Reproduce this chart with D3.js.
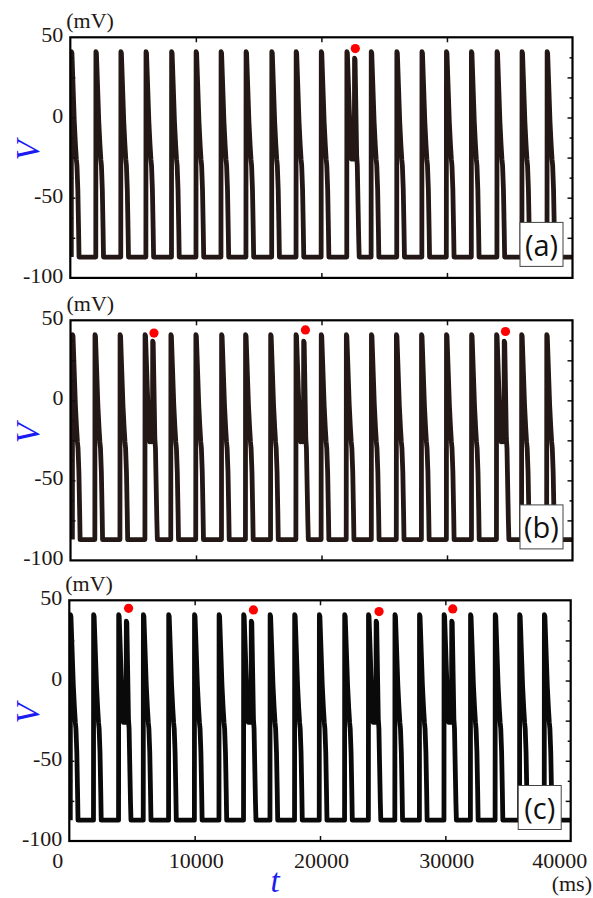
<!DOCTYPE html>
<html>
<head>
<meta charset="utf-8">
<script src="https://cdn.jsdelivr.net/npm/d3@7"></script>
<style>
  html, body { margin: 0; padding: 0; background: #fff; }
  svg { display: block; }
  .serif { font-family: "Liberation Serif", "Times New Roman", Times, "DejaVu Serif", serif; }
  .tag { font-family: "Open Sans", "Noto Sans", sans-serif; }
</style>
</head>
<body>
<svg id="chart" width="593" height="898"></svg>
<script>
// Membrane potential V(t) over 40 s, three conditions (a)-(c).

const panelLabels = ["(a)", "(b)", "(c)"];

// Spike onset times (ms)
const onsetsA = [80, 2030, 4020, 6020, 8060, 10010, 12000, 13990, 16040, 17980,
                 19980, 22020, 23960, 26000, 28000, 29950, 31940, 33980, 35970, 37970];
const onsetsB = [150, 1940, 3940, 5930, 7990, 9980, 12030, 13940, 15940, 17960,
                 19970, 21970, 23970, 25960, 27960, 29950, 31950, 33940, 35940, 37940];
const onsetsC = [80, 1930, 3930, 5900, 7920, 9980, 11940, 13900, 16010, 17970,
                 19940, 21960, 23860, 25970, 27930, 29890, 32000, 33970, 35920, 37890];

// Onsets that fire a doublet (second spike from the plateau)
const doubletsA = [22020];
const doubletsB = [5930, 17960, 33940];
const doubletsC = [3930, 13900, 23860, 29890];

// Marked second peaks [t (ms), V (mV)]
const markersA = [[22700, 43]];
const markersB = [[6650, 42], [18720, 44], [34660, 43]];
const markersC = [[4730, 45], [14690, 44], [24710, 43], [30590, 44.6]];

// Single action potential: [ms after onset, V (mV)]
const singleWave = [[0, -87], [10, 41], [50, 40], [240, -3], [330, -17], [400, -26],
                    [450, -30], [520, -45], [580, -70], [615, -87]];
// Doublet: plateau oscillation, then a second spike
const doubletWave = [[0, -87], [10, 41], [50, 40], [200, 5], [330, -20], [380, -26],
                     [420, -12], [460, -25], [500, -9], [540, -26], [580, -14], [605, -24],
                     [620, 37], [660, 36], [790, -24], [840, -30], [900, -55], [950, -75],
                     [990, -87]];

const restV = -87;
const timeTicks = [0, 10000, 20000, 30000, 40000];
const timeInnerTicks = [10000, 20000, 30000];
const voltLabels = [50, 0, -50, -100];
const voltMajorTicks = [25, 0, -25, -50, -75];
const voltMinorTicks = [37.5, 12.5, -12.5, -37.5, -62.5];

const onsets = [onsetsA, onsetsB, onsetsC];
const doublets = [doubletsA, doubletsB, doubletsC];
const markers = [markersA, markersB, markersC];

const svg = d3.select("#chart");
const textColor = "#231815";
const blue = "#1c1cf2";

const frames = [
  { left: 70.3, right: 572.5, top: 37.3, bottom: 277.9, trace: "#231815" },
  { left: 70.5, right: 572.5, top: 320.3, bottom: 560.4, trace: "#231815" },
  { left: 69.3, right: 570.7, top: 600.3, bottom: 841.0, trace: "#0a0a0a" }
];

function buildTrace(ons, dbl) {
  const pts = [];
  ons.forEach(o => {
    const wave = dbl.includes(o) ? doubletWave : singleWave;
    wave.forEach(([dt, v]) => pts.push([o + dt, v]));
  });
  pts.push([40000, restV]);
  return pts;
}

frames.forEach((f, i) => {
  const x = d3.scaleLinear().domain([0, 40000]).range([f.left, f.right]);
  const y = d3.scaleLinear().domain([-100, 50]).range([f.bottom, f.top]);
  const g = svg.append("g");

  const clipId = "clip" + i;
  svg.append("clipPath").attr("id", clipId)
    .append("rect")
    .attr("x", f.left).attr("y", f.top)
    .attr("width", f.right - f.left).attr("height", f.bottom - f.top);

  // trace
  const line = d3.line().x(d => x(d[0])).y(d => y(d[1]));
  g.append("path")
    .datum(buildTrace(onsets[i], doublets[i]))
    .attr("clip-path", `url(#${clipId})`)
    .attr("d", line)
    .attr("fill", "none")
    .attr("stroke", f.trace)
    .attr("stroke-width", 4.8)
    .attr("stroke-linejoin", "round");

  // markers
  g.selectAll("circle.mk").data(markers[i]).join("circle")
    .attr("class", "mk")
    .attr("cx", d => x(d[0])).attr("cy", d => y(d[1]))
    .attr("r", 4.6).attr("fill", "#ff0000");

  // inward ticks
  const tickStyle = sel => {
    sel.select(".domain").remove();
    sel.selectAll(".tick line").attr("stroke", "#111").attr("stroke-width", 1.5);
    sel.selectAll(".tick text").remove();
  };
  g.append("g").attr("transform", `translate(0,${f.bottom})`)
    .call(d3.axisBottom(x).tickValues(timeInnerTicks).tickSize(-5)).call(tickStyle);
  g.append("g").attr("transform", `translate(0,${f.top})`)
    .call(d3.axisTop(x).tickValues(timeInnerTicks).tickSize(-5)).call(tickStyle);
  g.append("g").attr("transform", `translate(${f.left},0)`)
    .call(d3.axisLeft(y).tickValues(voltMajorTicks).tickSize(-5)).call(tickStyle);
  g.append("g").attr("transform", `translate(${f.left},0)`)
    .call(d3.axisLeft(y).tickValues(voltMinorTicks).tickSize(-3)).call(tickStyle);
  g.append("g").attr("transform", `translate(${f.right},0)`)
    .call(d3.axisRight(y).tickValues(voltMajorTicks).tickSize(-5)).call(tickStyle);
  g.append("g").attr("transform", `translate(${f.right},0)`)
    .call(d3.axisRight(y).tickValues(voltMinorTicks).tickSize(-3)).call(tickStyle);

  // frame
  g.append("rect")
    .attr("x", f.left).attr("y", f.top)
    .attr("width", f.right - f.left).attr("height", f.bottom - f.top)
    .attr("fill", "none").attr("stroke", "#000").attr("stroke-width", 2.2);

  // voltage labels
  g.selectAll("text.vl").data(voltLabels).join("text")
    .attr("class", "vl serif")
    .attr("x", f.left - 7)
    .attr("y", d => y(d) + 5)
    .attr("text-anchor", "end")
    .style("font-size", "22px")
    .attr("fill", textColor)
    .text(d => d);

  // unit
  g.append("text")
    .attr("class", "serif")
    .attr("x", f.left - 4).attr("y", f.top - 9.5)
    .style("font-size", "22px")
    .attr("fill", textColor)
    .text("(mV)");

  // axis title V
  g.append("text")
    .attr("class", "serif")
    .attr("transform", `translate(28,${f.top + 0.47 * (f.bottom - f.top)}) rotate(-90)`)
    .attr("text-anchor", "middle")
    .attr("dominant-baseline", "central")
    .style("font-size", "33px").style("font-style", "italic")
    .attr("fill", blue)
    .text("V");

  // panel tag
  const bx = f.right - 52.5, by = f.bottom - 55.5;
  g.append("rect")
    .attr("x", bx).attr("y", by).attr("width", 43).attr("height", 44)
    .attr("fill", "#fff").attr("stroke", "#444").attr("stroke-width", 1);
  g.append("text")
    .attr("class", "tag")
    .attr("x", bx + 21.5).attr("y", by + 22)
    .attr("text-anchor", "middle").attr("dominant-baseline", "central")
    .style("font-size", "29px")
    .attr("fill", "#111")
    .text(panelLabels[i]);

  // time axis labels on the bottom panel
  if (i === frames.length - 1) {
    const last = timeTicks.length - 1;
    g.selectAll("text.tl").data(timeTicks).join("text")
      .attr("class", "tl serif")
      .attr("x", (d, k) => k === 0 ? x(d) - 6 : (k === last ? x(d) - 11 : x(d) + 1.5))
      .attr("y", f.bottom + 27)
      .attr("text-anchor", (d, k) => k === 0 ? "end" : "middle")
      .style("font-size", "22px")
      .attr("fill", textColor)
      .text(d => d);

    g.append("text")
      .attr("class", "serif")
      .attr("x", 275).attr("y", 892)
      .attr("text-anchor", "middle")
      .style("font-size", "33px").style("font-style", "italic")
      .attr("fill", blue)
      .text("t");

    g.append("text")
      .attr("class", "serif")
      .attr("x", 592).attr("y", 891)
      .attr("text-anchor", "end")
      .style("font-size", "22px")
      .attr("fill", textColor)
      .text("(ms)");
  }
});
</script>
</body>
</html>
